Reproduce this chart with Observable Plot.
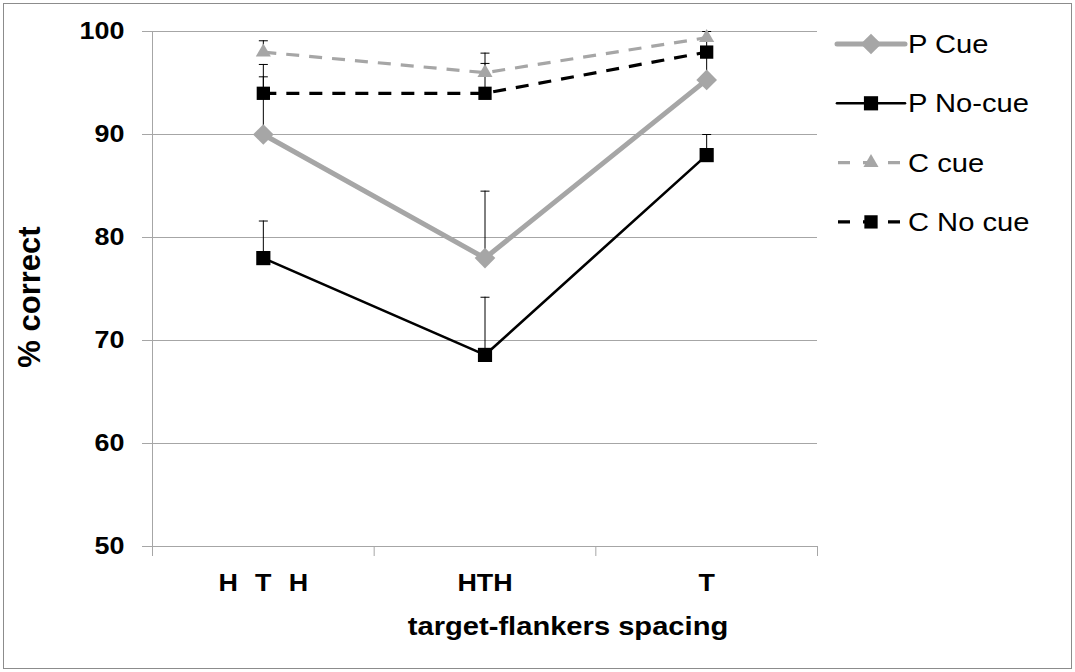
<!DOCTYPE html>
<html><head><meta charset="utf-8">
<script src="https://cdn.jsdelivr.net/npm/d3@7"></script>
<script src="https://cdn.jsdelivr.net/npm/@observablehq/plot@0.6"></script>
<style>
html,body{margin:0;padding:0;background:#fff;}
#wrap{position:relative;width:1075px;height:672px;overflow:hidden;font-family:"Liberation Sans",Arial,sans-serif;}
#border{position:absolute;left:3px;top:3px;width:1067px;height:664px;border:1px solid #8c8c8c;box-sizing:content-box;}
#chart{position:absolute;left:0;top:0;}
#legend{position:absolute;left:830px;top:20px;overflow:visible;}
</style></head><body>
<div id="wrap"><div id="border"></div><div id="chart"></div><svg id="legend" width="240" height="230"></svg></div>
<script>
// ---- data ----
const categories = ["H\u00a0\u00a0\u200aT\u00a0\u00a0\u200aH", "HTH", "T"];
const seriesNames = ["P Cue", "P No-cue", "C cue", "C No cue"];
const pCue     = [90, 78, 95.3];
const pNoCue   = [78, 68.6, 88];
const cCue     = [98, 96, 99.4];
const cNoCue   = [94, 94, 98];
const pCueErr   = [5.6, 6.5, 2.5];
const pNoCueErr = [3.6, 5.6, 2.0];
const cCueErr   = [1.1, 1.9, 0.6];
const cNoCueErr = [2.8, 2.9, 1.2];
const yTicks = [50, 60, 70, 80, 90, 100];
const boundaryTicks = [0, 1, 2, 3];

const GRAY = "#a6a6a6";
const styles = {
  "P Cue":    {stroke: GRAY,   width: 5,   dash: null,    symbol: "diamond2", r: 9.3},
  "P No-cue": {stroke: "#000", width: 2.6, dash: null,    symbol: "square",   r: 8},
  "C cue":    {stroke: GRAY,   width: 3.2, dash: "13,10", symbol: "triangle", r: 5.6},
  "C No cue": {stroke: "#000", width: 3.2, dash: "13,10", symbol: "square",   r: 7.5}
};
const values = [pCue, pNoCue, cCue, cNoCue];
const errs = [pCueErr, pNoCueErr, cCueErr, cNoCueErr];
const rows = [];
seriesNames.forEach((s, k) => values[k].forEach((v, i) => rows.push({series: s, i, x: i + 0.5, value: v, top: v + errs[k][i]})));

const capSymbol = {draw(ctx) { ctx.moveTo(-4.5, 0); ctx.lineTo(4.5, 0); }};

const marks = [
  Plot.gridY(yTicks, {stroke: GRAY, strokeOpacity: 1}),
  Plot.ruleX([0], {y1: 50, y2: 100, stroke: GRAY}),
  Plot.axisY({ticks: yTicks, tickSize: 10, tickPadding: 18, stroke: GRAY, strokeOpacity: 1,
    fontSize: 24, fontWeight: "bold", fill: "#000", tickFormat: d => d, label: null}),
  Plot.axisX({ticks: boundaryTicks, tickSize: 10, stroke: GRAY, strokeOpacity: 1, tickFormat: () => "", label: null}),
  Plot.axisX({ticks: [0.5, 1.5, 2.5], tickSize: 0, tickPadding: 27, fontSize: 24, fontWeight: "bold", fill: "#000",
    tickFormat: d => categories[Math.floor(d)], label: null}),
  Plot.text(["% correct"], {frameAnchor: "left", textAnchor: "middle", lineAnchor: "middle", rotate: -90, dx: -122, dy: 8,
    fontSize: 31, fontWeight: "bold", fill: "#000", className: "nostretch"}),
  Plot.text(["target-flankers spacing"], {frameAnchor: "bottom", textAnchor: "middle", lineAnchor: "middle", dx: 83, dy: 80, fontSize: 26, fontWeight: "bold", fill: "#000"}),
  // error bars
  Plot.ruleX(rows, {x: "x", y1: "value", y2: "top", stroke: "#000", strokeWidth: 1}),
  Plot.dot(rows, {x: "x", y: "top", symbol: capSymbol, stroke: "#000", strokeWidth: 1, r: 1})
];
for (const s of seriesNames) {
  const st = styles[s];
  const d = rows.filter(r => r.series === s);
  marks.push(Plot.line(d, {x: "x", y: "value", stroke: st.stroke, strokeWidth: st.width,
    strokeDasharray: st.dash, strokeLinejoin: "round", strokeLinecap: st.dash ? "butt" : "round"}));
}
for (const s of seriesNames) {
  const st = styles[s];
  const d = rows.filter(r => r.series === s);
  marks.push(Plot.dot(d, {x: "x", y: "value", symbol: st.symbol, r: st.r, fill: st.stroke, stroke: "none"}));
}

const chart = Plot.plot({
  width: 1075, height: 672,
  marginLeft: 152, marginRight: 258, marginTop: 31, marginBottom: 126,
  x: {type: "linear", domain: [0, 3]},
  y: {domain: [50, 100]},
  style: {fontFamily: "'Liberation Sans', Arial, sans-serif", color: "#000", background: "transparent", overflow: "visible"},
  marks
});
document.getElementById("chart").appendChild(chart);

// ---- legend ----
const lg = d3.select("#legend");
const rowGap = 59.3;
seriesNames.forEach((s, k) => {
  const st = styles[s];
  const g = lg.append("g").attr("transform", `translate(0,${24 + k * rowGap})`);
  g.append("line").attr("x1", st.dash ? 8 : 7).attr("x2", st.dash ? 71 : 75).attr("y1", 0).attr("y2", 0)
    .attr("stroke", st.stroke).attr("stroke-width", st.width)
    .attr("stroke-dasharray", st.dash ? "12,13" : null)
    .attr("stroke-linecap", st.dash ? "butt" : "round");
  const sym = {"diamond2": d3.symbolDiamond2, "square": d3.symbolSquare, "triangle": d3.symbolTriangle}[st.symbol];
  g.append("path").attr("transform", "translate(41,0)").attr("d", d3.symbol(sym, st.r * st.r * Math.PI)()).attr("fill", st.stroke);
  g.append("text").attr("x", 78).attr("y", 0).attr("dy", "0.35em").attr("font-size", 26)
    .attr("font-family", "'Liberation Sans', Arial, sans-serif").attr("fill", "#000").text(s);
});

// slight horizontal stretch of horizontal text, as in the reference
function stretch(root, k) {
  root.querySelectorAll("text").forEach(t => {
    if (t.closest(".nostretch")) return;
    const L = t.getComputedTextLength();
    if (L > 0) { t.setAttribute("textLength", (L * k).toFixed(1)); t.setAttribute("lengthAdjust", "spacingAndGlyphs"); }
  });
}
stretch(chart, 1.12);
stretch(document.getElementById("legend"), 1.12);
</script>
</body></html>
